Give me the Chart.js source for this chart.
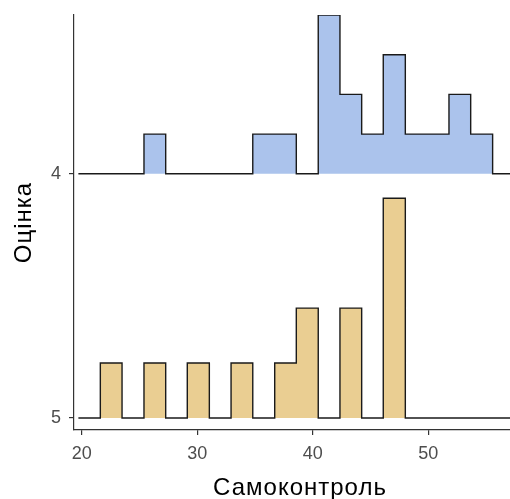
<!DOCTYPE html>
<html>
<head>
<meta charset="utf-8">
<script src="https://cdn.jsdelivr.net/npm/chart.js@4/dist/chart.umd.min.js"></script>
<style>
  html, body { margin: 0; padding: 0; overflow: hidden; background: #ffffff; }
  #wrap { width: 526px; height: 499px; position: relative; }
</style>
</head>
<body>
<div id="wrap"><canvas id="c"></canvas></div>
<script>
// Bin edges (Самоконтроль)
const binEdges = [19.71, 21.61, 23.49, 25.39, 27.27, 29.14, 31.05, 32.93, 34.81, 36.71,
                  38.58, 40.48, 42.36, 44.24, 46.11, 48.02, 49.90, 51.80, 53.68, 55.58,
                  57.48, 59.36];
// Group labels (y axis) and their baseline positions
const groupLabels = ['5', '4'];
const groupPositions = [0, 1];
// Counts per bin for each group (bin i spans binEdges[i]..binEdges[i+1])
const counts5 = [0, 1, 0, 1, 0, 1, 0, 1, 0, 1, 2, 0, 2, 0, 4, 0, 0, 0, 0, 0, 0];
const counts4 = [0, 0, 0, 1, 0, 0, 0, 0, 1, 1, 0, 4, 2, 1, 3, 1, 1, 2, 1, 0, 0];
const xTicks = [20, 30, 40, 50];
const ridgeScale = 0.9;

const groups = [
  { counts: counts5, pos: groupPositions[0], fill: '#EACE92' },
  { counts: counts4, pos: groupPositions[1], fill: '#ABC3EC' }
];
// ggridges-like height normalisation (density, scaled so the tallest = ridgeScale)
const sum = a => a.reduce((s, v) => s + v, 0);
const maxRel = Math.max(...groups.map(g => Math.max(...g.counts) / sum(g.counts)));

function ridgeData(g) {
  const n = sum(g.counts);
  const h = c => g.pos + (c / n) / maxRel * ridgeScale;
  const pts = [{ x: binEdges[0], y: h(g.counts[0]) }];
  g.counts.forEach((c, i) => pts.push({ x: binEdges[i + 1], y: h(c) }));
  return pts;
}

const datasets = groups.slice().reverse().map(g => ({
  data: ridgeData(g),
  stepped: 'after',
  borderColor: '#1a1a1a',
  borderWidth: 1.4,
  backgroundColor: g.fill,
  fill: { value: g.pos },
  pointRadius: 0,
  tension: 0
}));

const FONT = "'Liberation Sans', Arial, sans-serif";

function spacedTitle(s) {
  if (s._spacedWrapped) return;
  s._spacedWrapped = true;
  const orig = s.drawTitle;
  s.drawTitle = function () {
    const ctx = this.ctx;
    ctx.save();
    ctx.letterSpacing = '1px';
    orig.apply(this, arguments);
    ctx.restore();
  };
}

new Chart(document.getElementById('c'), {
  type: 'line',
  data: { datasets },
  options: {
    responsive: true,
    maintainAspectRatio: false,
    animation: false,
    layout: { padding: { top: 15, right: 0, bottom: 0, left: 0 } },
    plugins: { legend: { display: false }, tooltip: { enabled: false } },
    scales: {
      x: {
        type: 'linear',
        min: 19.33,
        max: 58.47,
        afterBuildTicks: s => { s.ticks = xTicks.map(v => ({ value: v })); },
        afterFit: s => { s.height = 69; s.paddingLeft = 0; s.paddingRight = 0; spacedTitle(s); },
        border: { display: true, color: '#333333', width: 1.2 },
        grid: { drawOnChartArea: false, drawTicks: true, tickLength: 5, color: '#333333', lineWidth: 1.2 },
        ticks: { color: '#4d4d4d', font: { family: FONT, size: 18 }, padding: 8, maxRotation: 0 },
        title: { display: true, text: 'Самоконтроль', color: '#000000', font: { family: FONT, size: 24, lineHeight: 1 }, padding: { top: 0, bottom: -1 } }
      },
      y: {
        type: 'linear',
        min: -0.049,
        max: 1.650,
        afterBuildTicks: s => { s.ticks = groupPositions.map(v => ({ value: v })); },
        afterFit: s => { s.width = 74; s.paddingTop = 0; s.paddingBottom = 0; spacedTitle(s); },
        border: { display: true, color: '#333333', width: 1.2 },
        grid: { drawOnChartArea: false, drawTicks: true, tickLength: 5, color: '#333333', lineWidth: 1.2 },
        ticks: {
          color: '#4d4d4d', font: { family: FONT, size: 18 }, padding: 8,
          callback: (v) => groupLabels[groupPositions.indexOf(v)]
        },
        title: { display: true, text: 'Оцінка', color: '#000000', font: { family: FONT, size: 24, lineHeight: 1 }, padding: { top: 12, bottom: 0 } }
      }
    }
  }
});
</script>
</body>
</html>
